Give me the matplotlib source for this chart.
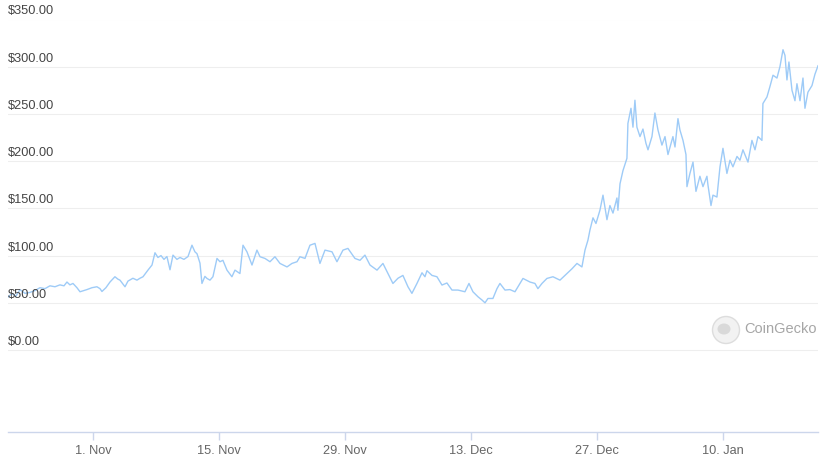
import pandas as pd
import numpy as np
import matplotlib
matplotlib.use("Agg")
import matplotlib.pyplot as plt
from matplotlib.patches import Ellipse

# price, x as days counted from 1 Nov 2020
start = pd.Timestamp("2020-11-01")
days = [-9.44, -9.0, -8.56, -8.11, -7.56, -7.0, -6.44, -5.89, -5.33, -4.78,
        -4.22, -3.67, -3.22, -2.89, -2.56, -2.22, -1.78, -1.44, -1.0, -0.67,
        -0.11, 0.44, 0.78, 1.0, 1.44, 1.89, 2.44, 2.78, 3.0, 3.56,
        3.89, 4.44, 4.89, 5.22, 5.56, 6.11, 6.56, 6.89, 7.22, 7.56,
        7.89, 8.22, 8.56, 8.89, 9.33, 9.67, 10.11, 10.56, 11.0, 11.33,
        11.56, 11.89, 12.11, 12.44, 12.67, 13.0, 13.33, 13.78, 14.11, 14.44,
        14.89, 15.44, 15.78, 16.33, 16.67, 17.11, 17.67, 18.22, 18.56, 19.11,
        19.67, 20.22, 20.78, 21.56, 22.11, 22.67, 23.0, 23.56, 24.11, 24.67,
        25.22, 25.78, 26.56, 27.11, 27.78, 28.33, 29.11, 29.67, 30.22, 30.78,
        31.56, 32.22, 32.78, 33.33, 33.89, 34.44, 35.0, 35.44, 36.0, 36.56,
        36.89, 37.11, 37.67, 38.22, 38.78, 39.33, 39.89, 40.56, 41.33, 41.78,
        42.22, 42.78, 43.22, 43.56, 43.89, 44.44, 44.89, 45.22, 45.78, 46.33,
        46.89, 47.44, 47.78, 48.56, 49.11, 49.44, 49.89, 50.44, 51.11, 51.89,
        52.67, 53.22, 53.78, 54.33, 54.67, 55.0, 55.22, 55.56, 55.89, 56.33,
        56.67, 57.11, 57.44, 57.78, 58.22, 58.33, 58.56, 58.89, 59.33, 59.44,
        59.78, 60.0, 60.22, 60.44, 60.78, 61.11, 61.44, 61.67, 62.11, 62.44,
        62.78, 63.22, 63.56, 63.89, 64.44, 64.67, 65.0, 65.22, 65.56, 65.89,
        66.0, 66.33, 66.67, 67.0, 67.44, 67.78, 68.22, 68.33, 68.67, 68.89,
        69.33, 69.67, 70.0, 70.44, 70.78, 71.11, 71.56, 71.89, 72.22, 72.78,
        73.22, 73.56, 73.89, 74.33, 74.44, 74.89, 75.22, 75.56, 76.0, 76.33,
        76.67, 76.89, 77.11, 77.33, 77.67, 78.0, 78.22, 78.56, 78.89, 79.11,
        79.44, 79.89, 80.22, 80.56]
price = [56, 60, 57, 64, 60, 61, 63, 66, 65, 68,
         67, 69, 68, 72, 69, 70.5, 66, 61.7, 63, 64,
         66, 67, 65, 62, 66, 72, 77.6, 75, 74, 67,
         73, 76, 74, 76, 77.6, 84.6, 90, 103, 98, 100,
         96, 99, 85, 100.5, 96, 98, 96, 99, 111, 104,
         102, 92, 70.5, 78, 75.8, 74, 77.6, 97, 93.5, 95,
         84.6, 77.6, 84.6, 81, 111, 104, 90, 105.8, 98.8, 97,
         93.5, 98.8, 91.7, 88, 91.7, 93.5, 98.8, 97, 111, 112.9,
         91.7, 105.8, 104, 93.5, 105.8, 107.6, 97, 95, 100.5, 90,
         84.6, 91.7, 81, 70.5, 76, 79, 67, 60, 70.5, 81.8,
         77.6, 84, 79, 77.6, 68.8, 71, 63.5, 63.5, 61.7, 70.5,
         61.7, 56.4, 53, 50, 54.6, 54.6, 65, 70.5, 63.5, 64,
         61.7, 70.5, 75.8, 72, 70.5, 65, 70.5, 75.8, 77.6, 74,
         81, 86, 91.7, 88, 105.8, 116.4, 127, 140, 134, 148,
         164, 138, 153, 145, 161, 148, 176, 190, 203, 240,
         256, 236, 264.5, 236, 226, 234, 219, 212, 226, 251,
         233, 217, 226, 207, 226, 215, 245, 233, 222, 207,
         173, 187, 199, 168, 184, 173, 184, 175, 153, 164,
         162, 194, 213.6, 187, 201, 194, 205, 201, 212, 199,
         222, 212, 226, 222, 261, 268, 279, 291, 288, 300,
         318, 312, 286, 305, 275, 264, 282, 264, 288, 256,
         273, 280, 292, 301]
y_ticks = [0, 50, 100, 150, 200, 250, 300, 350]
x_tick_dates = ["2020-11-01", "2020-11-15", "2020-11-29", "2020-12-13", "2020-12-27", "2021-01-10"]
x_tick_labels = ["1. Nov", "15. Nov", "29. Nov", "13. Dec", "27. Dec", "10. Jan"]

dates = start + pd.to_timedelta(days, unit="D")

plt.rcParams["font.family"] = ["Liberation Sans", "DejaVu Sans"]
fig = plt.figure(figsize=(8.23, 4.59), dpi=100)
ax = fig.add_axes([8 / 823, 1 - 432 / 459, 810 / 823, (432 - 19.5) / 459])

ax.plot(dates, price, color="#9ecbf7", lw=1.0, solid_joinstyle="round")

ax.set_ylim(-86.8, 350)
ax.set_xlim(dates[0], dates[-1])

# gridlines and y labels sitting above them
for v in y_ticks:
    ax.axhline(v, color="#eeeeee", lw=0.8, zorder=0)
    ax.annotate(f"${v:.2f}", xy=(0, v), xycoords=("axes fraction", "data"),
                xytext=(0, 1.5), textcoords="offset points",
                ha="left", va="bottom", fontsize=9.2, color="#444444")
ax.set_yticks([])

for s in ["top", "right", "left"]:
    ax.spines[s].set_visible(False)
ax.spines["bottom"].set_color("#ccd6eb")
ax.spines["bottom"].set_linewidth(1.0)

ax.set_xticks([pd.Timestamp(d) for d in x_tick_dates])
ax.set_xticklabels(x_tick_labels)
ax.tick_params(axis="x", length=6, width=1.0, color="#ccd6eb",
               labelsize=9.2, labelcolor="#666666", pad=3)

# CoinGecko watermark
fig.patches.append(Ellipse((726 / 823, 1 - 330 / 459), 27 / 823, 27 / 459,
                           transform=fig.transFigure, facecolor="#f2f2f2",
                           edgecolor="#dddddd", lw=1.0, zorder=5))
fig.patches.append(Ellipse((724 / 823, 1 - 329 / 459), 13 / 823, 11 / 459,
                           transform=fig.transFigure, facecolor="#d9d9d9",
                           edgecolor="none", zorder=6))
fig.text(744 / 823, 1 - 329 / 459, "CoinGecko", ha="left", va="center",
         fontsize=10.5, color="#a6a6a6")

fig.savefig("out.png", dpi=100)
